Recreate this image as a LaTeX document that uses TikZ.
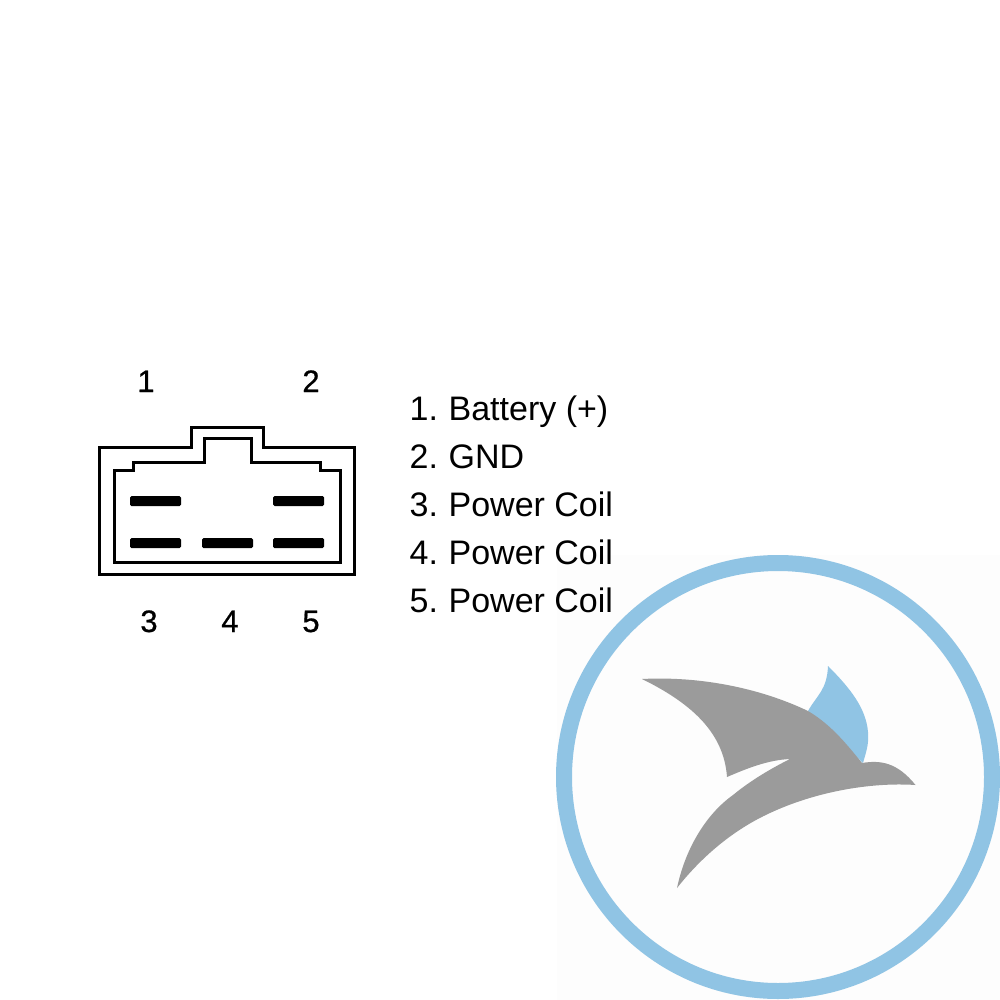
\documentclass[tikz,border=0pt]{standalone}
\usepackage{fontspec}
\setmainfont{Liberation Sans}
\newfontfamily\pinfont[FakeBold=0.7]{Liberation Sans}
\definecolor{ringblue}{HTML}{90C4E4}
\definecolor{birdgrey}{HTML}{9B9B9B}
\definecolor{panel}{HTML}{FDFDFD}
\tikzset{
  wire/.style={draw=black,line width=3pt,line join=miter,fill=none},
  pin/.style={fill=black,rounded corners=1.5pt,draw=none},
  legend/.style={anchor=base west,inner sep=0pt,font=\fontsize{34}{36}\selectfont,text=black},
  pinno/.style={anchor=base,inner sep=0pt,font=\pinfont\fontsize{31}{33}\selectfont,text=black}
}
\begin{document}
\begin{tikzpicture}[x=1pt,y=-1pt]
\useasboundingbox (0,0) rectangle (1000,1000);
\fill[white] (0,0) rectangle (1000,1000);
\fill[panel] (557,555) rectangle (1000,1000);
% connector outline
\draw[wire] (99.5,447) -- (191,447) -- (191,427) -- (263,427) -- (263,447) -- (354,447) -- (354,574) -- (99.5,574) -- cycle;
\draw[wire] (114,470) -- (133,470) -- (133,462) -- (204,462) -- (204,438) -- (251,438) -- (251,462) -- (320.5,462) -- (320.5,470) -- (340,470) -- (340,562) -- (114,562) -- cycle;
% pins
\fill[pin] (130,496) rectangle (181,506);
\fill[pin] (273,496) rectangle (324,506);
\fill[pin] (130,538) rectangle (181,548);
\fill[pin] (202,538) rectangle (253,548);
\fill[pin] (273,538) rectangle (324,548);
% numbers
\node[pinno] (n1) at (146,392) {1};
\node[pinno] (n2) at (311,392) {2};
\node[pinno] (n3) at (149,632) {3};
\node[pinno] (n4) at (230,632) {4};
\node[pinno] (n5) at (311,632) {5};
% legend
\node[legend] (l1) at (409.5,420) {1.\kern-2pt{} Battery (+)};
\node[legend] (l2) at (409.5,468) {2.\kern-2pt{} GND};
\node[legend] (l3) at (409.5,516) {3.\kern-2pt{} Power Coil};
\node[legend] (l4) at (409.5,564) {4.\kern-2pt{} Power Coil};
\node[legend] (l5) at (409.5,612) {5.\kern-2pt{} Power Coil};
% ring
\draw[ringblue,line width=16pt] (778,777) circle (214);
% bird
\fill[ringblue] (808,711) .. controls (817,695) and (827,690) .. (828,666)
  .. controls (850,688) and (866,708) .. (868,732)
  .. controls (869,745) and (866,752) .. (863,763) -- cycle;
\fill[birdgrey] (642,679)
  .. controls (700,676) and (760,688) .. (808,711)
  .. controls (830,724) and (845,742) .. (862,763)
  .. controls (880,760) and (897,762) .. (915.5,785)
  .. controls (870,782) and (815,792) .. (770,813)
  .. controls (735,829) and (703,855) .. (677,888)
  .. controls (685,850) and (705,815) .. (733,795)
  .. controls (750,781) and (770,769) .. (790,759)
  .. controls (768,760) and (748,768) .. (727,777)
  .. controls (724,735) and (695,705) .. (642,679) -- cycle;
\end{tikzpicture}
\end{document}
